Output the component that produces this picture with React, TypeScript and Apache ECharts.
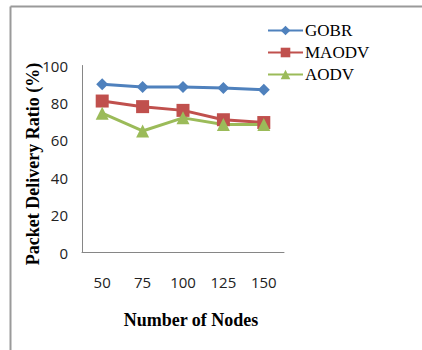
import React, { useEffect, useRef } from "react";
import * as echarts from "echarts";

// Network sizes on the x axis
const nodeCounts = ["50", "75", "100", "125", "150"];

// Packet delivery ratio (%) per protocol
const gobr = [90, 88.5, 88.5, 88, 87];
const maodv = [81, 78, 76, 71, 69.5];
const aodv = [74.5, 65, 72, 68.5, 68.5];

const yTicks = { min: 0, max: 100, interval: 20 };

const BLUE = "#4F81BD";
const RED = "#C0504D";
const GREEN = "#9BBB59";
const AXIS = "#868686";
const FRAME = "#9a9a9a";
const SERIF = "'Liberation Serif', 'Times New Roman', serif";
const SANS = "'Open Sans', 'Liberation Sans', sans-serif";

export default function App() {
  const ref = useRef<HTMLDivElement>(null);

  useEffect(() => {
    if (!ref.current) return;
    const chart = echarts.init(ref.current, undefined, { renderer: "svg" });

    const line = (name: string, data: number[], color: string, symbol: string, size: number) => ({
      name,
      type: "line" as const,
      data,
      symbol,
      symbolSize: size,
      itemStyle: { color },
      lineStyle: { color, width: 3 },
      z: 3,
    });

    chart.setOption({
      animation: false,
      backgroundColor: "#ffffff",
      grid: { left: 82, right: 138, top: 65.5, bottom: 97.5, containLabel: false },
      legend: {
        orient: "vertical",
        left: 262,
        top: 17,
        itemWidth: 35,
        itemHeight: 12,
        itemGap: 5,
        textStyle: { fontFamily: SERIF, fontSize: 17, color: "#000", padding: [0, 0, 0, -3] },
        data: ["GOBR", "MAODV", "AODV"],
      },
      xAxis: {
        type: "category",
        data: nodeCounts,
        boundaryGap: true,
        axisLine: { lineStyle: { color: AXIS, width: 1 } },
        axisTick: { show: false },
        axisLabel: { fontFamily: SANS, fontSize: 15, color: "#222", margin: 22 },
        splitLine: { show: false },
      },
      yAxis: {
        type: "value",
        min: yTicks.min,
        max: yTicks.max,
        interval: yTicks.interval,
        axisLine: { show: true, lineStyle: { color: AXIS, width: 1 } },
        axisTick: { show: false },
        axisLabel: { fontFamily: SANS, fontSize: 15, color: "#222", margin: 14 },
        splitLine: { show: false },
      },
      graphic: [
        {
          type: "line",
          shape: { x1: 10.5, y1: 6.5, x2: 422, y2: 6.5 },
          style: { stroke: FRAME, lineWidth: 2 },
          silent: true,
        },
        {
          type: "line",
          shape: { x1: 10.5, y1: 6.5, x2: 10.5, y2: 350 },
          style: { stroke: FRAME, lineWidth: 2 },
          silent: true,
        },
        {
          type: "text",
          x: 33,
          y: 164,
          rotation: Math.PI / 2,
          style: {
            text: "Packet Delivery Ratio (%)",
            font: `bold 18px ${SERIF}`,
            fill: "#000",
            align: "center",
            verticalAlign: "middle",
          },
        },
        {
          type: "text",
          x: 191,
          y: 320,
          style: {
            text: "Number of Nodes",
            font: `bold 18px ${SERIF}`,
            fill: "#000",
            align: "center",
            verticalAlign: "middle",
          },
        },
      ],
      series: [
        line("GOBR", gobr, BLUE, "diamond", 12),
        line("MAODV", maodv, RED, "rect", 13),
        line("AODV", aodv, GREEN, "triangle", 13),
      ],
    });

    return () => chart.dispose();
  }, []);

  return (
    <div
      ref={ref}
      style={{ position: "fixed", left: 0, top: 0, width: 422, height: 350, background: "#fff" }}
    />
  );
}
